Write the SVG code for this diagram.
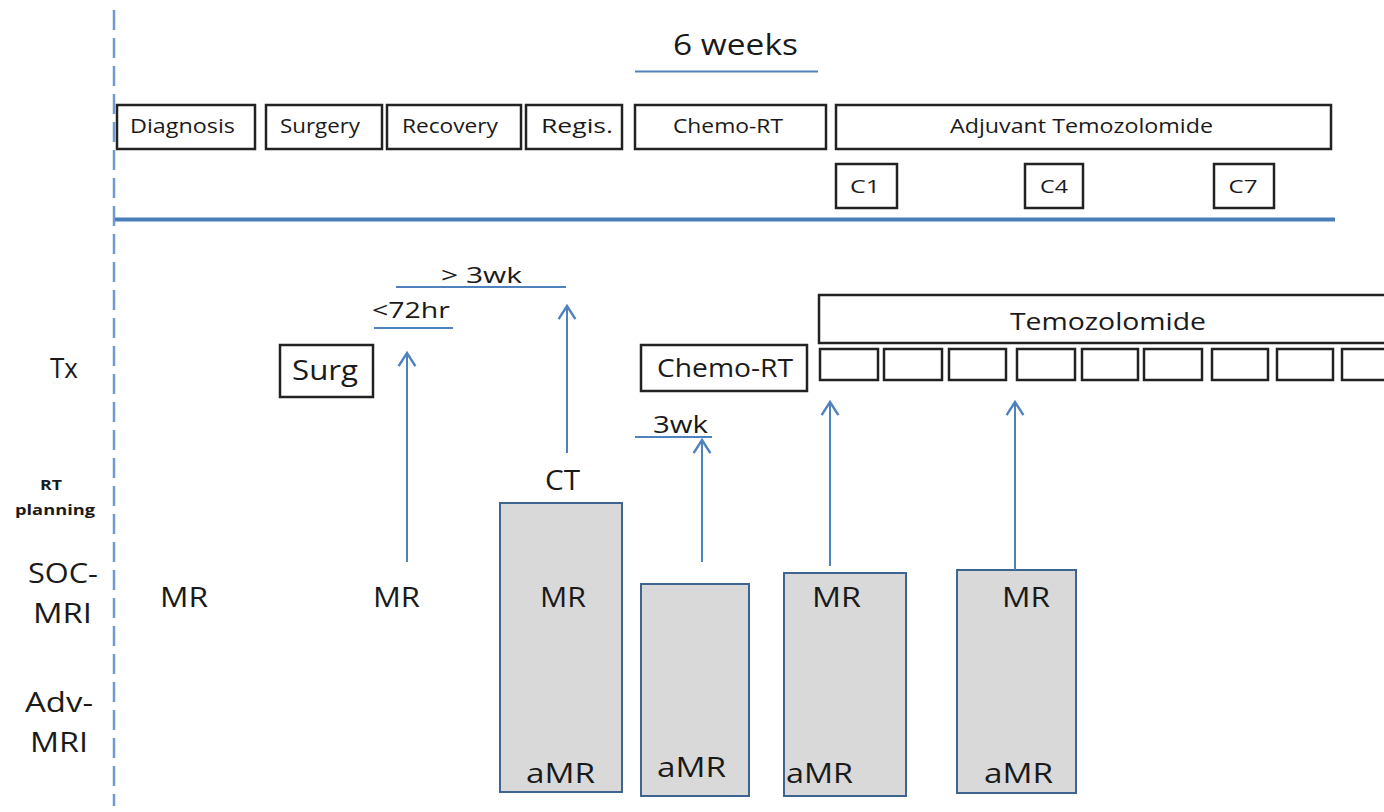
<svg xmlns="http://www.w3.org/2000/svg" width="1384" height="812" viewBox="0 0 1384 812">
<defs>
<style>
text{font-family:"Open Sans","Liberation Sans",sans-serif;fill:#1a1a1a;text-anchor:middle}
.box{fill:#fff;stroke:#222;stroke-width:2.5}
.gbox{fill:#d9d9d9;stroke:#3e6492;stroke-width:2}
.conn{stroke:#4f81bd;stroke-width:2;fill:none}
.s20{font-size:20px}
.s18{font-size:18px}
.s22{font-size:22px}
.s24{font-size:24px}
.s28{font-size:28px}
</style>
<marker id="arr" markerUnits="userSpaceOnUse" markerWidth="24" markerHeight="24" viewBox="-14 -10 16 20" refX="0" refY="0" orient="auto">
<path d="M-11,-7 L0,0 L-11,7" fill="none" stroke="#4f81bd" stroke-width="2"/>
</marker>
</defs>
<rect width="1384" height="812" fill="#fff"/>

<g id="axes">
<line x1="114" y1="10" x2="114" y2="806" stroke="#6f9bd0" stroke-width="2.5" stroke-dasharray="20,8"/>
<line x1="115" y1="219.5" x2="1335" y2="219.5" stroke="#4a7ebb" stroke-width="4"/>
</g>

<g id="labels-left">
<text class="s28" x="64" y="378" textLength="28" lengthAdjust="spacingAndGlyphs">Tx</text>
<text x="51" y="490" font-size="14" font-weight="bold" textLength="22" lengthAdjust="spacingAndGlyphs">RT</text>
<text x="55" y="515" font-size="14" font-weight="bold" textLength="80" lengthAdjust="spacingAndGlyphs">planning</text>
<text class="s28" x="63" y="583" textLength="70" lengthAdjust="spacingAndGlyphs">SOC-</text>
<text class="s28" x="62.5" y="623" textLength="59" lengthAdjust="spacingAndGlyphs">MRI</text>
<text class="s28" x="59" y="712" textLength="68" lengthAdjust="spacingAndGlyphs">Adv-</text>
<text class="s28" x="59" y="752" textLength="58" lengthAdjust="spacingAndGlyphs">MRI</text>
</g>

<g id="six-weeks">
<text x="735.5" y="55" font-size="30" textLength="125" lengthAdjust="spacingAndGlyphs">6 weeks</text>
</g>

<g id="top-diagnosis"><rect class="box" x="117" y="105" width="138" height="44"/><text class="s20" x="182.5" y="133" textLength="105" lengthAdjust="spacingAndGlyphs">Diagnosis</text></g>
<g id="top-surgery"><rect class="box" x="266" y="105" width="116" height="44"/><text class="s20" x="320" y="133" textLength="80" lengthAdjust="spacingAndGlyphs">Surgery</text></g>
<g id="top-recovery"><rect class="box" x="387" y="105" width="134" height="44"/><text class="s20" x="450" y="133" textLength="96" lengthAdjust="spacingAndGlyphs">Recovery</text></g>
<g id="top-regis"><rect class="box" x="526" y="105" width="96" height="44"/><text class="s20" x="577" y="133" textLength="72" lengthAdjust="spacingAndGlyphs">Regis.</text></g>
<g id="top-chemort"><rect class="box" x="635" y="105" width="191" height="44"/><text class="s20" x="728" y="133" textLength="110" lengthAdjust="spacingAndGlyphs">Chemo-RT</text></g>
<g id="top-adjuvant"><rect class="box" x="836" y="105" width="495" height="44"/><text class="s20" x="1081.5" y="133" textLength="263" lengthAdjust="spacingAndGlyphs">Adjuvant Temozolomide</text></g>
<g id="c1"><rect class="box" x="836" y="164" width="61" height="44"/><text class="s18" x="865" y="193" textLength="30" lengthAdjust="spacingAndGlyphs">C1</text></g>
<g id="c4"><rect class="box" x="1025" y="164" width="58" height="44"/><text class="s18" x="1054" y="193" textLength="28" lengthAdjust="spacingAndGlyphs">C4</text></g>
<g id="c7"><rect class="box" x="1214" y="164" width="60" height="44"/><text class="s18" x="1243" y="193" textLength="29" lengthAdjust="spacingAndGlyphs">C7</text></g>

<g id="interval-labels">
<text class="s22" x="481.5" y="283" textLength="81" lengthAdjust="spacingAndGlyphs">&gt; 3wk</text>
<text class="s22" x="411" y="318" textLength="78" lengthAdjust="spacingAndGlyphs">&lt;72hr</text>
<text class="s24" x="680.5" y="433" textLength="55" lengthAdjust="spacingAndGlyphs">3wk</text>
</g>

<g id="surg"><rect class="box" x="280" y="345" width="93" height="52"/><text class="s28" x="325" y="380" textLength="66" lengthAdjust="spacingAndGlyphs">Surg</text></g>
<g id="chemort"><rect class="box" x="641" y="345" width="166" height="46"/><text font-size="25" x="725" y="377" textLength="136" lengthAdjust="spacingAndGlyphs">Chemo-RT</text></g>
<g id="temozolomide"><rect class="box" x="819" y="295" width="580" height="48"/><text class="s24" x="1108" y="330" textLength="196" lengthAdjust="spacingAndGlyphs">Temozolomide</text></g>
<g id="cycles">
<rect class="box" x="820" y="349" width="58" height="31"/>
<rect class="box" x="884" y="349" width="58" height="31"/>
<rect class="box" x="949" y="349" width="57" height="31"/>
<rect class="box" x="1017" y="349" width="58" height="31"/>
<rect class="box" x="1082" y="349" width="56" height="31"/>
<rect class="box" x="1144" y="349" width="58" height="31"/>
<rect class="box" x="1212" y="349" width="56" height="31"/>
<rect class="box" x="1277" y="349" width="56" height="31"/>
<rect class="box" x="1342" y="349" width="56" height="31"/>
</g>

<g id="ct"><text class="s28" x="562.5" y="490" textLength="35" lengthAdjust="spacingAndGlyphs">CT</text></g>
<g id="mr1"><text class="s28" x="184" y="607" textLength="48" lengthAdjust="spacingAndGlyphs">MR</text></g>
<g id="mr2"><text class="s28" x="396.5" y="607" textLength="47" lengthAdjust="spacingAndGlyphs">MR</text></g>

<g id="scan1"><rect class="gbox" x="500" y="503" width="122" height="289"/><text class="s28" x="563" y="607" textLength="46" lengthAdjust="spacingAndGlyphs">MR</text><text class="s28" x="560.5" y="783" textLength="69" lengthAdjust="spacingAndGlyphs">aMR</text></g>
<g id="scan2"><rect class="gbox" x="641" y="584" width="108" height="212"/><text class="s28" x="691.5" y="777" textLength="69" lengthAdjust="spacingAndGlyphs">aMR</text></g>
<g id="scan3"><rect class="gbox" x="784" y="573" width="122" height="223"/><text class="s28" x="836.5" y="607" textLength="49" lengthAdjust="spacingAndGlyphs">MR</text><text class="s28" x="819.5" y="783" textLength="67" lengthAdjust="spacingAndGlyphs">aMR</text></g>
<g id="scan4"><rect class="gbox" x="957" y="570" width="119" height="223"/><text class="s28" x="1026" y="607" textLength="48" lengthAdjust="spacingAndGlyphs">MR</text><text class="s28" x="1018.5" y="783" textLength="69" lengthAdjust="spacingAndGlyphs">aMR</text></g>

<g id="connectors">
<line class="conn" x1="635" y1="71.5" x2="818" y2="71.5"/>
<line class="conn" x1="396" y1="287" x2="566" y2="287"/>
<line class="conn" x1="374" y1="328" x2="453" y2="328"/>
<line class="conn" x1="635" y1="437" x2="712" y2="437"/>
<line class="conn" x1="407" y1="562" x2="407" y2="353" marker-end="url(#arr)"/>
<line class="conn" x1="567" y1="453" x2="567" y2="306" marker-end="url(#arr)"/>
<line class="conn" x1="702" y1="562" x2="702" y2="440" marker-end="url(#arr)"/>
<line class="conn" x1="830" y1="566" x2="830" y2="402" marker-end="url(#arr)"/>
<line class="conn" x1="1015" y1="570" x2="1015" y2="402" marker-end="url(#arr)"/>
</g>
</svg>
